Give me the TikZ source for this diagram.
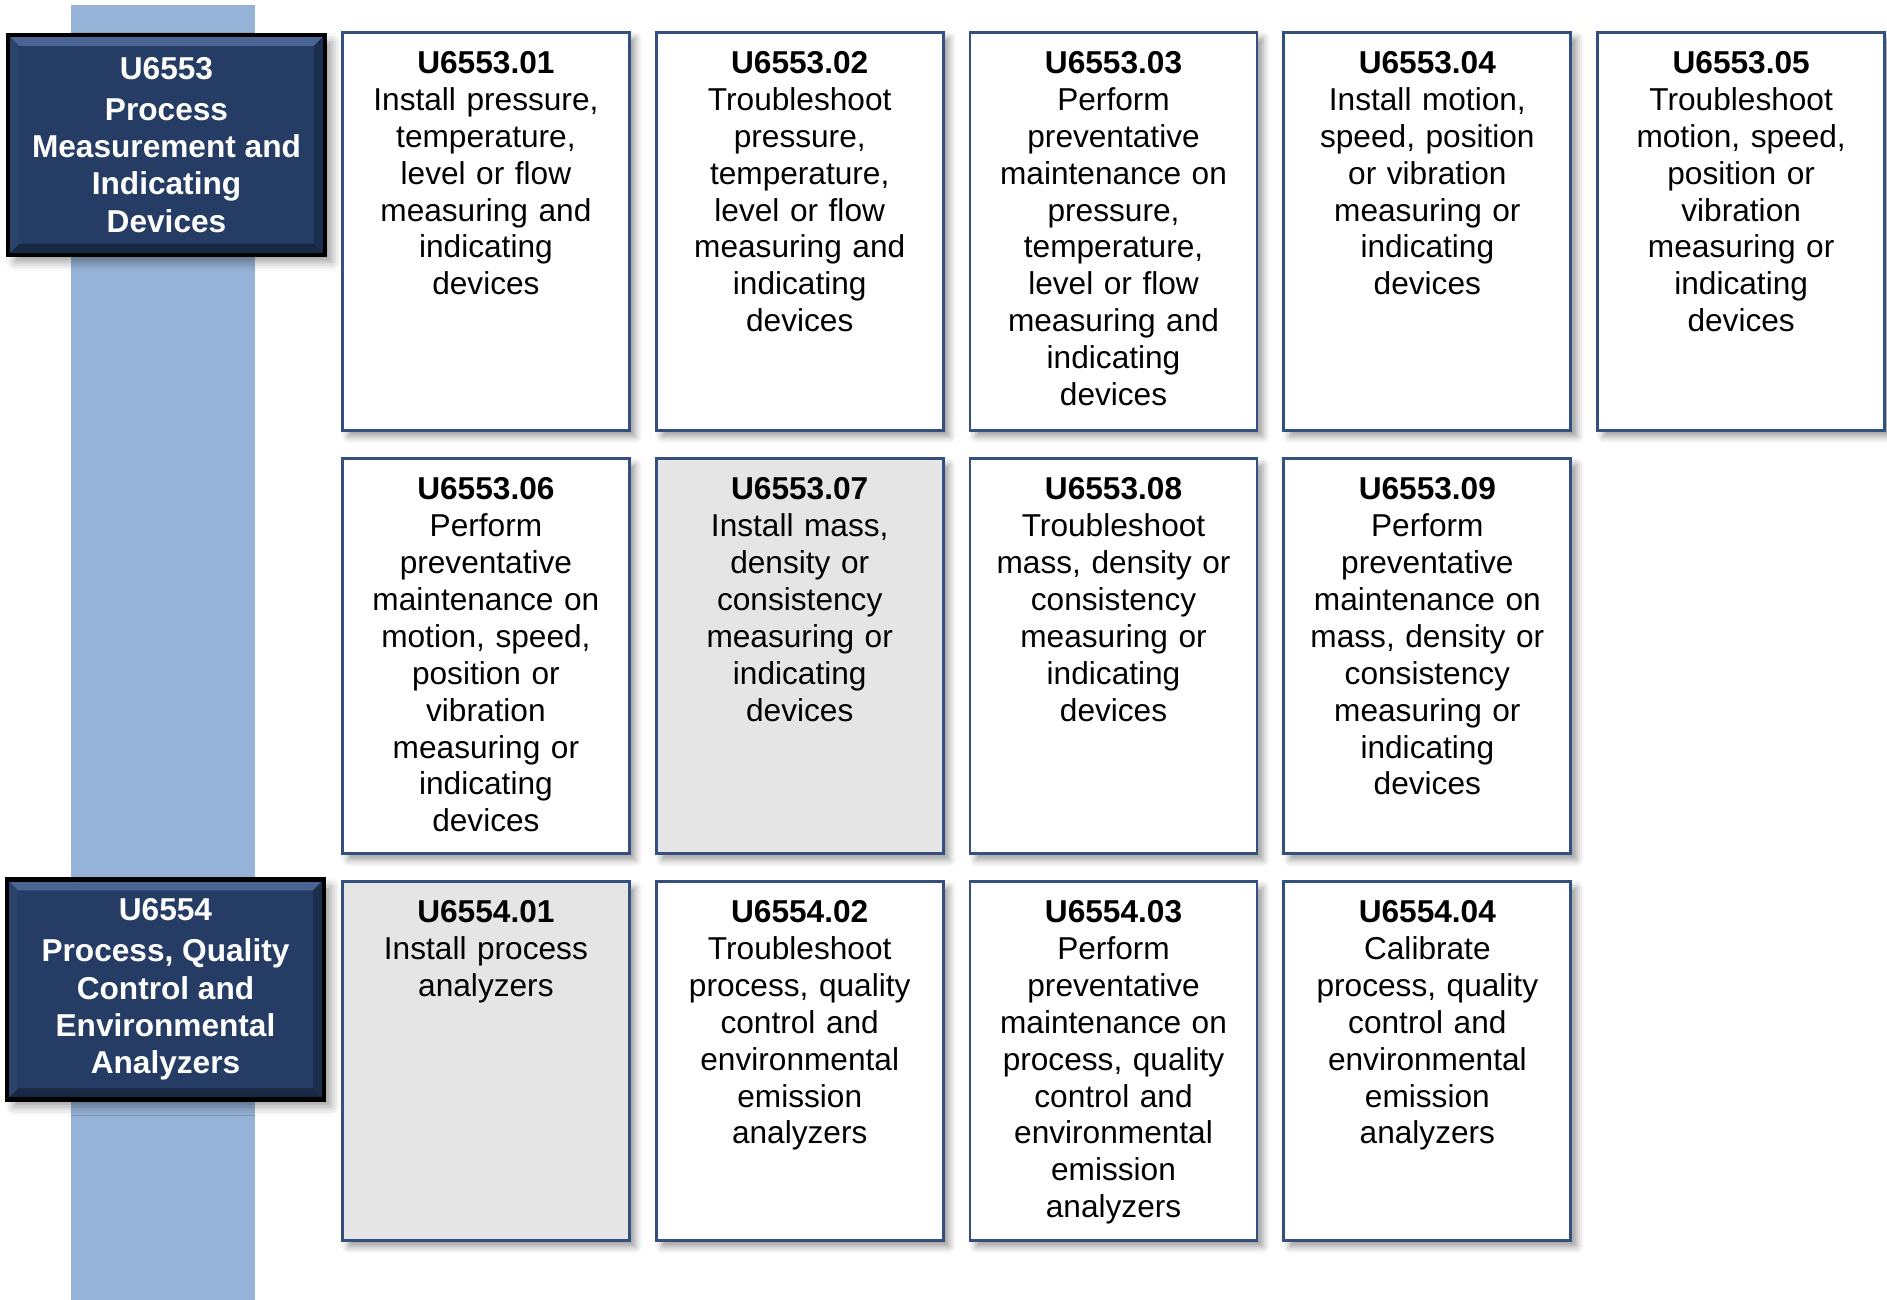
\documentclass[tikz,border=0pt]{standalone}
\usepackage{fontspec}
\setmainfont{Liberation Sans}
\usetikzlibrary{positioning,shadows.blur}

\definecolor{barblue}{HTML}{95B3D7}
\definecolor{navy}{HTML}{253C64}
\definecolor{navylight}{HTML}{4A6594}
\definecolor{navydark}{HTML}{172843}
\definecolor{edgeblue}{HTML}{34507F}
\definecolor{cellgrey}{HTML}{E5E5E5}

\tikzset{
  headbox/.style={fill=navy, draw=black, line width=1.2pt, text=white,
    minimum width=3.17cm, minimum height=2.2cm, inner sep=0pt, align=center,
    font=\bfseries\fontsize{9}{10.6}\selectfont,
    blur shadow={shadow xshift=0.7mm, shadow yshift=-0.7mm, shadow blur radius=0.9mm},
    path picture={
      \coordinate (nw) at (path picture bounding box.north west);
      \coordinate (ne) at (path picture bounding box.north east);
      \coordinate (sw) at (path picture bounding box.south west);
      \coordinate (se) at (path picture bounding box.south east);
      \fill[navylight] (nw) -- (ne) -- ([shift={(-0.11,-0.11)}]ne) -- ([shift={(0.11,-0.11)}]nw) -- cycle;
      \fill[navydark] (sw) -- (se) -- ([shift={(-0.11,0.11)}]se) -- ([shift={(0.11,0.11)}]sw) -- cycle;
      \fill[navydark!70!navy] (ne) -- (se) -- ([shift={(-0.11,0.11)}]se) -- ([shift={(-0.11,-0.11)}]ne) -- cycle;
      \fill[navy!85!navylight] (nw) -- (sw) -- ([shift={(0.11,0.11)}]sw) -- ([shift={(0.11,-0.11)}]nw) -- cycle;
    }},
  unitbox/.style={fill=white, draw=edgeblue, line width=0.8pt,
    text width=2.73cm, inner xsep=0.07cm, inner ysep=0.18cm, align=center,
    text height=0.23cm, font=\fontsize{9}{10.5}\selectfont,
    blur shadow={shadow xshift=0.6mm, shadow yshift=-0.6mm, shadow blur radius=0.7mm}},
  greybox/.style={unitbox, fill=cellgrey},
  rowA/.style={text depth=3.39cm},
  rowB/.style={text depth=3.36cm},
  rowC/.style={text depth=3.00cm}
}

\begin{document}
\begin{tikzpicture}
  \useasboundingbox (0,0) rectangle (18.87,-13.0);
  \fill[barblue] (0.71,-0.05) rectangle (2.55,-13.0);

  \node[headbox] (h53) at (1.665,-1.45) {U6553\\[1pt] Process\\ Measurement and\\ Indicating\\ Devices};
  \node[headbox] (h54) at (1.655,-9.895) {U6554\\[1pt] Process, Quality\\ Control and\\ Environmental\\ Analyzers};

  \node[unitbox, rowA, anchor=north west] (u01) at (3.41,-0.31)
    {\textbf{U6553.01}\\ Install pressure,\\ temperature,\\ level or flow\\ measuring and\\ indicating\\ devices};
  \node[unitbox, rowA, right=0.24cm of u01] (u02)
    {\textbf{U6553.02}\\ Troubleshoot\\ pressure,\\ temperature,\\ level or flow\\ measuring and\\ indicating\\ devices};
  \node[unitbox, rowA, right=0.24cm of u02] (u03)
    {\textbf{U6553.03}\\ Perform\\ preventative\\ maintenance on\\ pressure,\\ temperature,\\ level or flow\\ measuring and\\ indicating\\ devices};
  \node[unitbox, rowA, right=0.24cm of u03] (u04)
    {\textbf{U6553.04}\\ Install motion,\\ speed, position\\ or vibration\\ measuring or\\ indicating\\ devices};
  \node[unitbox, rowA, right=0.24cm of u04] (u05)
    {\textbf{U6553.05}\\ Troubleshoot\\ motion, speed,\\ position or\\ vibration\\ measuring or\\ indicating\\ devices};

  \node[unitbox, rowB, below=0.255cm of u01] (u06)
    {\textbf{U6553.06}\\ Perform\\ preventative\\ maintenance on\\ motion, speed,\\ position or\\ vibration\\ measuring or\\ indicating\\ devices};
  \node[greybox, rowB, right=0.24cm of u06] (u07)
    {\textbf{U6553.07}\\ Install mass,\\ density or\\ consistency\\ measuring or\\ indicating\\ devices};
  \node[unitbox, rowB, right=0.24cm of u07] (u08)
    {\textbf{U6553.08}\\ Troubleshoot\\ mass, density or\\ consistency\\ measuring or\\ indicating\\ devices};
  \node[unitbox, rowB, right=0.24cm of u08] (u09)
    {\textbf{U6553.09}\\ Perform\\ preventative\\ maintenance on\\ mass, density or\\ consistency\\ measuring or\\ indicating\\ devices};

  \node[greybox, rowC, below=0.25cm of u06] (v01)
    {\textbf{U6554.01}\\ Install process\\ analyzers};
  \node[unitbox, rowC, right=0.24cm of v01] (v02)
    {\textbf{U6554.02}\\ Troubleshoot\\ process, quality\\ control and\\ environmental\\ emission\\ analyzers};
  \node[unitbox, rowC, right=0.24cm of v02] (v03)
    {\textbf{U6554.03}\\ Perform\\ preventative\\ maintenance on\\ process, quality\\ control and\\ environmental\\ emission\\ analyzers};
  \node[unitbox, rowC, right=0.24cm of v03] (v04)
    {\textbf{U6554.04}\\ Calibrate\\ process, quality\\ control and\\ environmental\\ emission\\ analyzers};
\end{tikzpicture}
\end{document}
